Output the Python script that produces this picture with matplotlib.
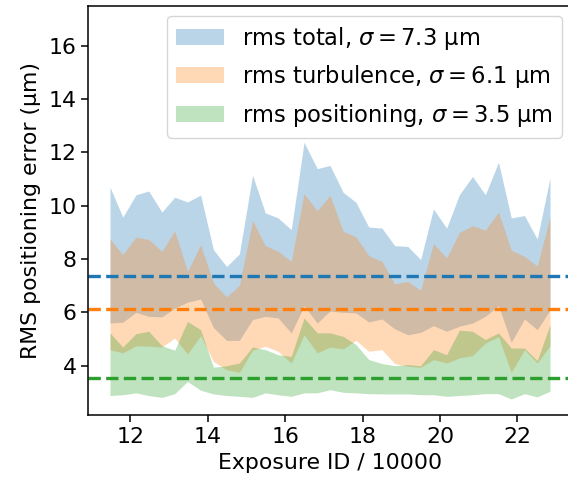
import matplotlib
matplotlib.use("Agg")
import matplotlib.pyplot as plt
from matplotlib.patches import Patch

# exposure id / 10000
expo = [11.48, 11.81, 12.15, 12.48, 12.82, 13.15, 13.48, 13.82, 14.15, 14.49,
        14.82, 15.16, 15.49, 15.82, 16.16, 16.49, 16.83, 17.16, 17.50, 17.83,
        18.16, 18.50, 18.83, 19.17, 19.50, 19.83, 20.17, 20.50, 20.84, 21.17,
        21.51, 21.84, 22.18, 22.51, 22.84]

# rms total band
tot_hi = [10.70, 9.57, 10.41, 10.55, 9.76, 10.32, 10.14, 10.40, 8.35, 7.72,
          8.19, 11.14, 9.73, 9.54, 9.10, 12.38, 11.39, 11.51, 10.50, 10.13,
          9.20, 9.16, 8.50, 8.47, 7.98, 9.88, 9.16, 10.41, 11.10, 10.41,
          11.63, 9.54, 9.63, 8.75, 11.04]
tot_lo = [5.60, 5.63, 6.00, 5.85, 5.83, 6.16, 6.38, 6.50, 5.43, 4.95,
          4.95, 5.73, 5.85, 5.79, 5.23, 6.25, 5.60, 6.05, 6.00, 5.98,
          5.64, 5.75, 5.38, 5.16, 5.25, 5.50, 5.29, 5.48, 5.60, 5.85,
          6.25, 4.88, 5.75, 5.35, 6.08]

# rms turbulence band
turb_hi = [8.75, 8.16, 8.82, 8.73, 8.29, 9.06, 7.54, 8.53, 7.10, 6.58,
           7.01, 9.45, 8.50, 8.29, 7.91, 10.45, 9.81, 10.39, 9.04, 8.83,
           8.13, 7.91, 7.07, 7.16, 6.83, 8.58, 8.04, 9.00, 9.25, 9.08,
           9.76, 8.33, 8.10, 7.73, 9.58]
turb_lo = [4.60, 4.48, 4.75, 4.73, 4.70, 5.04, 4.44, 5.13, 4.16, 3.85,
           3.75, 4.58, 4.73, 4.54, 4.10, 5.16, 4.48, 4.70, 4.63, 4.95,
           4.54, 4.60, 4.08, 3.98, 3.94, 4.23, 4.10, 4.29, 4.38, 4.85,
           5.08, 3.75, 4.60, 4.10, 4.75]

# rms positioning band
pos_hi = [5.23, 4.70, 5.20, 5.29, 4.75, 4.58, 5.66, 5.35, 3.94, 4.00,
          4.10, 4.70, 4.60, 4.41, 4.35, 5.79, 5.23, 5.23, 5.10, 4.79,
          4.23, 4.08, 4.00, 4.04, 4.00, 4.60, 4.41, 5.33, 5.29, 4.98,
          5.23, 4.66, 4.66, 4.19, 5.54]
pos_lo = [2.88, 2.91, 2.98, 2.88, 2.81, 2.95, 3.41, 3.08, 2.94, 2.88,
          2.85, 2.81, 2.98, 2.91, 2.85, 2.98, 2.98, 3.10, 3.00, 2.98,
          2.95, 2.94, 2.94, 2.94, 2.91, 2.91, 2.85, 2.88, 2.91, 2.95,
          2.95, 2.75, 2.95, 2.83, 3.04]

sigmas = [7.35, 6.14, 3.52]
labels = [r"rms total, $\sigma = 7.3$ µm",
          r"rms turbulence, $\sigma = 6.1$ µm",
          r"rms positioning, $\sigma = 3.5$ µm"]
colors = ["tab:blue", "tab:orange", "tab:green"]

fs = 15.8
fig = plt.figure(figsize=(5.68, 4.87), dpi=100)
ax = fig.add_axes([88 / 568, 72 / 487, 484 / 568, 409.3 / 487])

bands = [(tot_lo, tot_hi), (turb_lo, turb_hi), (pos_lo, pos_hi)]
for (lo, hi), c in zip(bands, colors):
    ax.fill_between(expo, lo, hi, color=c, alpha=0.3, lw=0)

for s, c in zip(sigmas, colors):
    ax.axhline(s, color=c, ls="--", lw=2.4)

ax.set_ylim(2.15, 17.5)
ax.set_xticks([12, 14, 16, 18, 20, 22])
ax.set_yticks([4, 6, 8, 10, 12, 14, 16])
ax.tick_params(labelsize=fs, length=4.8, width=1.1)
for sp in ax.spines.values():
    sp.set_linewidth(1.1)
ax.set_xlabel("Exposure ID / 10000", fontsize=fs, labelpad=5)
ax.set_ylabel("RMS positioning error (µm)", fontsize=fs, labelpad=5)

handles = [Patch(facecolor=c, alpha=0.3, lw=0) for c in colors]
ax.legend(handles, labels, loc="upper right", fontsize=16.3,
          handlelength=2.1, borderaxespad=0.45)

fig.savefig("out.png", dpi=100)
